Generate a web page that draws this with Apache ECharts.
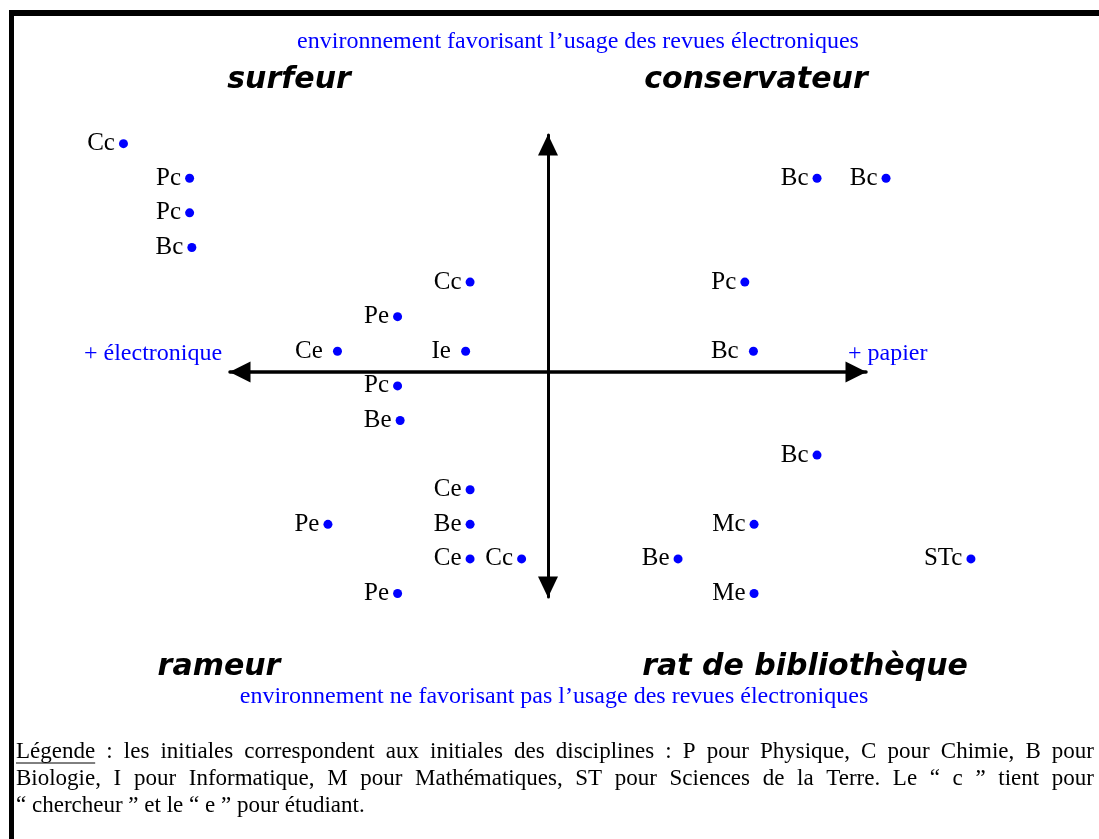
<!DOCTYPE html>
<html>
<head>
<meta charset="utf-8">
<script src="https://cdn.jsdelivr.net/npm/echarts@6/dist/echarts.min.js"></script>
<style>
html, body { margin: 0; padding: 0; background: #fff; }
#chart { width: 1099px; height: 839px; }
</style>
</head>
<body>
<div id="chart"></div>
<script>
// points : initiales + position sur la carte
const pointLabels = ['Cc', 'Pc', 'Pc', 'Bc', 'Cc', 'Pe', 'Ce ', 'Ie ', 'Pc', 'Be', 'Ce', 'Pe', 'Be', 'Ce', 'Cc', 'Pe',
  'Bc', 'Bc', 'Pc', 'Bc ', 'Bc', 'Mc', 'Be', 'STc', 'Me'];
const xValues = [-13.35, -11.27, -11.27, -11.2, -2.45, -4.73, -6.62, -2.59, -4.73, -4.65, -2.45, -6.92, -2.45, -2.45, -0.83, -4.73,
  8.46, 10.63, 6.19, 6.46, 8.46, 6.48, 4.09, 13.3, 6.48];
const yValues = [6.6, 5.6, 4.6, 3.6, 2.6, 1.6, 0.6, 0.6, -0.4, -1.4, -3.4, -4.4, -4.4, -5.4, -5.4, -6.4,
  5.6, 5.6, 2.6, 0.6, -2.4, -4.4, -5.4, -5.4, -6.4];

const quadrantTitles = ['surfeur', 'conservateur', 'rameur', 'rat de bibliothèque'];
const topNote = 'environnement favorisant l’usage des revues électroniques';
const bottomNote = 'environnement ne favorisant pas l’usage des revues électroniques';
const leftEnd = '+ électronique';
const rightEnd = '+ papier';
const legendLines = [
  'Légende : les initiales correspondent aux initiales des disciplines : P pour Physique, C pour Chimie, B pour',
  'Biologie, I pour Informatique, M pour Mathématiques, ST pour Sciences de la Terre. Le “ c ” tient pour',
  '“ chercheur ” et le “ e ” pour étudiant.'
];

const blue = '#0000ff';
const serif = '"Liberation Serif", "DejaVu Serif", serif';
const titleFont = 'italic bold 30px "DejaVu Sans", sans-serif';
const noteFont = '24px ' + serif;
const legendFont = '23px ' + serif;

let myChart = echarts.init(document.getElementById('chart'));

// mesure des mots pour justifier la légende
const ctx = document.createElement('canvas').getContext('2d');
ctx.font = legendFont;

function legendGraphics() {
  const left = 16, right = 1094;
  const lineY = [752, 779, 806];
  let els = [];
  legendLines.forEach(function (line, i) {
    const words = line.split(' ');
    const widths = words.map(w => ctx.measureText(w).width);
    const sum = widths.reduce((a, b) => a + b, 0);
    let gap = ctx.measureText(' ').width;
    if (i < legendLines.length - 1) gap = (right - left - sum) / (words.length - 1);
    let x = left;
    words.forEach(function (w, k) {
      els.push({
        type: 'text', x: x, y: lineY[i],
        style: { text: w, font: legendFont, fill: '#000', align: 'left', verticalAlign: 'middle' }
      });
      x += widths[k] + gap;
    });
  });
  // soulignement de "Légende"
  const w0 = ctx.measureText('Légende').width;
  els.push({ type: 'line', shape: { x1: left, y1: 763, x2: left + w0, y2: 763 }, style: { stroke: '#000', lineWidth: 1 } });
  return els;
}

function centerText(text, x, y, font, fill) {
  return { type: 'text', x: x, y: y, style: { text: text, font: font, fill: fill, align: 'center', verticalAlign: 'middle' } };
}

myChart.setOption({
  animation: false,
  backgroundColor: '#fff',
  grid: { left: 230, right: 233, top: 135, bottom: 242 },
  xAxis: {
    type: 'value', min: -10, max: 10,
    axisLine: {
      onZero: true,
      symbol: ['triangle', 'triangle'], symbolSize: [21, 21], symbolOffset: [10, -10],
      lineStyle: { color: '#000', width: 3.5 }
    },
    axisTick: { show: false }, axisLabel: { show: false }, splitLine: { show: false }
  },
  yAxis: {
    type: 'value', min: -6.5, max: 6.85,
    axisLine: {
      onZero: true,
      symbol: ['triangle', 'triangle'], symbolSize: [20, 21], symbolOffset: [10, -10],
      lineStyle: { color: '#000', width: 3 }
    },
    axisTick: { show: false }, axisLabel: { show: false }, splitLine: { show: false }
  },
  series: [
    {
      type: 'scatter',
      clip: false,
      symbol: 'circle',
      symbolSize: 9,
      itemStyle: { color: blue, opacity: 1 },
      label: {
        show: true,
        position: 'left',
        distance: 4,
        formatter: p => pointLabels[p.dataIndex],
        fontFamily: serif,
        fontSize: 25,
        color: '#000'
      },
      data: xValues.map((x, i) => [x, yValues[i]])
    }
  ],
  graphic: [
    // cadre
    { type: 'rect', shape: { x: 9, y: 10, width: 1090, height: 6 }, style: { fill: '#000' } },
    { type: 'rect', shape: { x: 9, y: 10, width: 5, height: 829 }, style: { fill: '#000' } },
    centerText(topNote, 578, 42, noteFont, blue),
    centerText(bottomNote, 554, 697, noteFont, blue),
    centerText(quadrantTitles[0], 289, 80, titleFont, '#000'),
    centerText(quadrantTitles[1], 756, 80, titleFont, '#000'),
    centerText(quadrantTitles[2], 219, 667, titleFont, '#000'),
    centerText(quadrantTitles[3], 805, 667, titleFont, '#000'),
    { type: 'text', x: 84, y: 354, style: { text: leftEnd, font: noteFont, fill: blue, align: 'left', verticalAlign: 'middle' } },
    { type: 'text', x: 848, y: 354, style: { text: rightEnd, font: noteFont, fill: blue, align: 'left', verticalAlign: 'middle' } }
  ].concat(legendGraphics())
});
</script>
</body>
</html>
